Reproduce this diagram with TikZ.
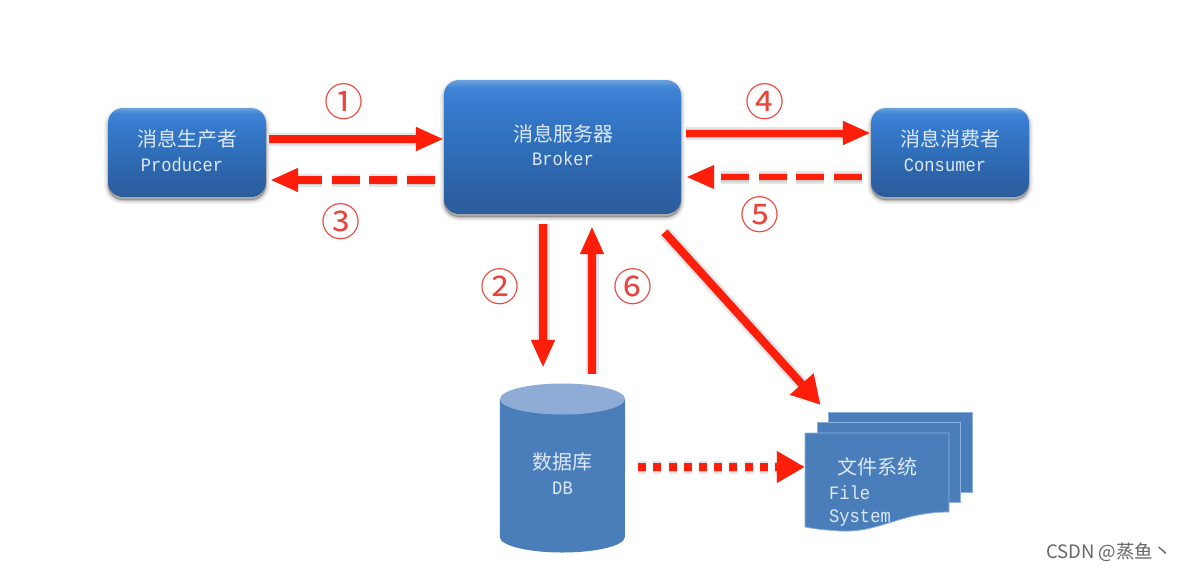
\documentclass[tikz,border=0pt]{standalone}
\usepackage{fontspec}
\setmonofont[FakeStretch=0.9]{Liberation Mono}
\newfontfamily\cjk{Noto Sans CJK SC}
\usetikzlibrary{arrows.meta,shadows,calc}
\definecolor{sheetblue}{HTML}{4A7EBB}
\definecolor{sheettop}{HTML}{8FACD6}
\definecolor{sheetedge}{HTML}{8DB0DE}
\definecolor{arrowred}{HTML}{FF1E0A}
\definecolor{numred}{HTML}{E8453C}
\definecolor{labelwhite}{HTML}{DCE8F6}
\definecolor{bs0}{HTML}{2D5C9A}
\definecolor{bs1}{HTML}{2B5FA2}
\definecolor{bs2}{HTML}{3070BC}
\definecolor{bs3}{HTML}{377BCE}
\definecolor{bs4}{HTML}{3F84D6}
\definecolor{bs5}{HTML}{6AA2DE}
\pgfdeclareverticalshading{boxshade}{100bp}{
  color(0bp)=(bs0);
  color(25bp)=(bs0);
  color(32bp)=(bs1);
  color(52bp)=(bs2);
  color(66bp)=(bs3);
  color(72bp)=(bs4);
  color(75bp)=(bs5);
  color(100bp)=(bs5)}
\tikzset{
  x=1pt,y=-1pt,
  bluebox/.style={rounded corners=15pt,shading=boxshade,inner sep=0pt,
    general shadow={fill=black,draw=black,line width=8pt,opacity=.05,shadow yshift=-3pt},
    general shadow={fill=black,draw=black,line width=5pt,opacity=.08,shadow yshift=-3pt},
    general shadow={fill=black,draw=black,line width=2pt,opacity=.12,shadow yshift=-3pt}},
  cn/.style={inner sep=0pt,text=labelwhite,font=\cjk\fontsize{20}{24}\selectfont},
  en/.style={inner sep=0pt,text=labelwhite,font=\ttfamily\fontsize{19}{22}\selectfont},
  en left/.style={en,anchor=west},
  num/.style={inner sep=0pt,text=numred,font=\cjk\fontsize{39}{42}\selectfont},
  tip/.style={-{Triangle[length=28pt,width=22pt]}},
  wide tip/.style={-{Triangle[length=28pt,width=30pt]}},
  red line/.style={arrowred,line width=8pt,tip},
  longdash/.style={dash pattern=on 28pt off 9.5pt},
  squares/.style={line width=8pt,dash pattern=on 8pt off 7.2pt},
  shade line/.style={black,opacity=.1,shift={(3pt,-6pt)}},
  watermark/.style={inner sep=0pt,text=black!60,font=\cjk\fontsize{18.5}{22}\selectfont,anchor=east}
}
\newcommand{\redarrow}[3][]{%
  \draw[red line,#1,shade line,line width=13pt] (#2) -- (#3);
  \draw[red line,#1,shade line,line width=9pt] (#2) -- (#3);
  \draw[red line,#1] (#2) -- (#3);}
\begin{document}
\begin{tikzpicture}
\useasboundingbox (0,0) rectangle (1183,571);
\fill[white] (0,0) rectangle (1183,571);

% blue boxes
\node[bluebox,minimum width=158pt,minimum height=89pt] (producer) at (187,152.5) {};
\node[bluebox,minimum width=237pt,minimum height=134pt] (broker) at (562.5,147) {};
\node[bluebox,minimum width=158pt,minimum height=89pt] (consumer) at (950,152.5) {};
\node[cn] (t1) at (187,139) {消息生产者};
\node[en] (t2) at (182,165) {Producer};
\node[cn] (t3) at (563,134) {消息服务器};
\node[en] (t4) at (563,159) {Broker};
\node[cn] (t5) at (950,139) {消息消费者};
\node[en] (t6) at (945,165) {Consumer};

% database
\node[inner sep=0pt,minimum width=125pt,minimum height=170pt] (db) at (562.5,468) {};
\fill[sheetblue] (db.west |- 0,399) -- (db.west |- 0,537)
  arc[start angle=180,end angle=360,x radius=62.5pt,y radius=15.5pt]
  -- (db.east |- 0,399) -- cycle;
\fill[sheettop] (562.5,399) ellipse[x radius=62.5pt,y radius=15.5pt];
\node[cn] (t7) at (562.5,462) {数据库};
\node[en] (t8) at (562.5,488) {DB};

% file system
\node[inner sep=0pt,minimum width=167pt,minimum height=119pt] (fs) at (888.5,471.5) {};
\filldraw[fill=sheetblue,draw=sheetedge,line width=.7pt] (828,412) rectangle (972,492);
\filldraw[fill=sheetblue,draw=sheetedge,line width=.7pt] (817,422) rectangle (960,502);
\filldraw[fill=sheetblue,draw=sheetedge,line width=.7pt] (805,433) -- (949,433) -- (949,512)
  .. controls (900,512) and (880,533) .. (840,531)
  .. controls (825,530) and (815,529) .. (805,527) -- cycle;
\node[cn] (t9) at (877.5,467) {文件系统};
\node[en left] (t10) at (829,492.5) {File};
\begin{scope}
  \clip (805,433) -- (949,433) -- (949,512)
    .. controls (900,512) and (880,533) .. (840,531)
    .. controls (825,530) and (815,529) .. (805,527) -- cycle;
  \node[en left] (t11) at (829,518) {System};
\end{scope}

% connector ends
\coordinate (a1s) at ([xshift=3pt,yshift=13.5pt]producer.east);
\coordinate (a1e) at (broker.west |- a1s);
\coordinate (a3s) at ([xshift=-9pt,yshift=-27.5pt]broker.west |- producer.east);
\coordinate (a3e) at ([xshift=4pt,yshift=-27.5pt]producer.east);
\coordinate (a4s) at ([xshift=5pt]broker.east |- 0,133);
\coordinate (a4e) at (consumer.west |- a4s);
\coordinate (a5s) at ([xshift=-9pt]consumer.west |- 0,177);
\coordinate (a5e) at ([xshift=5pt]broker.east |- a5s);
\coordinate (a2s) at ([yshift=-10pt]broker.south -| 543,0);
\coordinate (a2e) at ([yshift=15pt]db.north -| 543,0);
\coordinate (a6s) at ([yshift=9pt]db.north -| 592,0);
\coordinate (a6e) at ([yshift=-12pt]broker.south -| 592,0);
\coordinate (a7s) at ([xshift=102pt,yshift=-18pt]broker.south);
\coordinate (a7e) at ([xshift=-68pt,yshift=7pt]fs.north);
\coordinate (a8s) at ([xshift=13pt]db.east |- 0,467);
\coordinate (a8e) at (fs.west |- a8s);

% arrows
\redarrow{a1s}{a1e}
\redarrow[longdash]{a3s}{a3e}
\redarrow[line width=7pt]{a4s}{a4e}
\redarrow[longdash,line width=6.5pt]{a5s}{a5e}
\redarrow{a2s}{a2e}
\redarrow{a6s}{a6e}
\redarrow[wide tip]{a7s}{a7e}
\redarrow[squares,wide tip]{a8s}{a8e}

% numbers
\node[num] (n1) at (344,102) {①};
\node[num] (n2) at (500,287) {②};
\node[num] (n3) at (341,222) {③};
\node[num] (n4) at (765,102) {④};
\node[num] (n5) at (760,215) {⑤};
\node[num] (n6) at (633,287) {⑥};

\node[watermark] (wm) at (1172,552) {CSDN @蒸鱼丶};
\end{tikzpicture}
\end{document}
